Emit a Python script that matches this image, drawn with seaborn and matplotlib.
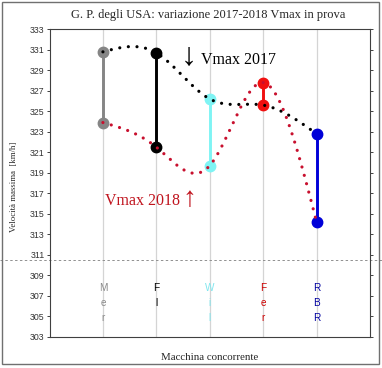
import numpy as np
import pandas as pd
import matplotlib
matplotlib.use("Agg")
import matplotlib.pyplot as plt
import matplotlib.transforms as mtransforms
from matplotlib.patches import Rectangle
import seaborn as sns

# ---- data ----
categories = ["Mer", "Fl", "Wil", "Fer", "RBR"]
vmax_2017 = [330.8, 330.7, 326.2, 325.6, 322.8]
vmax_2018 = [323.9, 321.5, 319.7, 327.8, 314.2]
bar_colors = ["#858585", "#000000", "#7ff4f4", "#f01010", "#0000d8"]
label_colors = ["#8a8a8a", "#000000", "#7fe6ee", "#cc0000", "#0000a0"]
yticks = list(range(303, 334, 2))
title = "G. P. degli USA: variazione 2017-2018 Vmax in prova"
ylabel = "Velocità massima  [km/h]"
xlabel = "Macchina concorrente"


def natural_spline(x, y, xs):
    """Natural cubic spline through (x, y), evaluated at xs."""
    x = np.asarray(x, float); y = np.asarray(y, float)
    n = len(x); h = np.diff(x)
    A = np.zeros((n, n)); r = np.zeros(n)
    A[0, 0] = 1; A[-1, -1] = 1
    for i in range(1, n - 1):
        A[i, i - 1] = h[i - 1]; A[i, i] = 2 * (h[i - 1] + h[i]); A[i, i + 1] = h[i]
        r[i] = 6 * ((y[i + 1] - y[i]) / h[i] - (y[i] - y[i - 1]) / h[i - 1])
    M = np.linalg.solve(A, r)
    idx = np.clip(np.searchsorted(x, xs) - 1, 0, n - 2)
    hi = h[idx]; t0 = xs - x[idx]; t1 = x[idx + 1] - xs
    return (M[idx] * t1 ** 3 / (6 * hi) + M[idx + 1] * t0 ** 3 / (6 * hi)
            + (y[idx] / hi - M[idx] * hi / 6) * t1 + (y[idx + 1] / hi - M[idx + 1] * hi / 6) * t0)


W, H = 382, 368
fig = plt.figure(figsize=(W / 100, H / 100), dpi=100)
sns.set_style("white")
ax = fig.add_axes([49.5 / W, 1 - 336.7 / H, (370 - 49.5) / W, (336.7 - 29.3) / H])

xpos = np.arange(1, len(categories) + 1)
ax.set_xlim(0, 6)
ax.set_ylim(303, 333)

# vertical grid
for xp in xpos:
    ax.axvline(xp, color="#d4d4d4", lw=0.9, zorder=0)

# vertical bars with end markers
for xp, a, b, col in zip(xpos, vmax_2017, vmax_2018, bar_colors):
    ax.plot([xp, xp], [a, b], color=col, lw=2.1, marker="o", ms=7.5,
            markeredgecolor=col, markerfacecolor=col, zorder=2, solid_capstyle="butt")

# spline curves drawn with seaborn
xs = np.linspace(1, 5, 600)
df17 = pd.DataFrame({"x": xs, "y": natural_spline(xpos, vmax_2017, xs)})
df18 = pd.DataFrame({"x": xs, "y": natural_spline(xpos, vmax_2018, xs)})
dots = (0, (0.01, 2.7))
sns.lineplot(data=df17, x="x", y="y", sort=False, ax=ax, color="black", lw=2.3, zorder=3)
sns.lineplot(data=df18, x="x", y="y", sort=False, ax=ax, color="#c8102e", lw=2.3, zorder=3)
for l in ax.lines[-2:]:
    l.set_linestyle(dots)
    l.set_dash_capstyle("round")

# category labels, stacked vertically
for xp, name, col in zip(xpos, categories, label_colors):
    ax.text(xp, 308.2, "\n".join(name), color=col, ha="center", va="top",
            fontsize=7.2, family="Liberation Sans", linespacing=1.6)

serif = ["Liberation Serif", "DejaVu Serif"]
ax.text(2.6, 330.35, "\u2193", fontsize=23, family=serif, color="black",
        ha="center", va="center")
ax.text(2.835, 330.0, "Vmax 2017", fontsize=11.5, family=serif, color="black",
        ha="left", va="center")
ax.text(1.03, 316.2, "Vmax 2018", fontsize=11.5, family=serif, color="#c0141e",
        ha="left", va="center")
ax.text(2.61, 316.4, "\u2191", fontsize=20, family=serif, color="#c0141e",
        ha="center", va="center")

# axis styling
ax.set_yticks(yticks)
ax.set_xticks([])
ax.set_xlabel(""); ax.set_ylabel("")
ax.tick_params(axis="y", which="both", left=True, right=True, labelleft=True,
               direction="in", length=3.5, width=0.7, color="#404040",
               labelsize=6.3, labelcolor="#333333", pad=1.5)
ax.tick_params(axis="y", left=True, direction="out", length=2)
for lab in ax.get_yticklabels():
    lab.set_family("Liberation Sans")
for s in ax.spines.values():
    s.set_visible(True)
    s.set_color("#404040")
    s.set_linewidth(0.8)

# dashed horizontal line across the figure
trans = mtransforms.blended_transform_factory(fig.transFigure, ax.transData)
ax.plot([0, 1], [310.44, 310.44], transform=trans, clip_on=False,
        color="#909090", lw=0.7, linestyle=(0, (2.5, 2.5)), zorder=1)

fig.text(208 / W, 1 - 15 / H, title, fontsize=9, family=serif, ha="center", va="center")
fig.text(210 / W, 1 - 357 / H, xlabel, fontsize=7.8, family=serif, ha="center", va="center")
fig.text(14 / W, 1 - 186.5 / H, ylabel, fontsize=6.3, family=serif, ha="center", va="center",
         rotation=90)

fig.patches.append(Rectangle((2 / W, 1 - 364 / H), 377 / W, 362 / H, transform=fig.transFigure,
                             fill=False, edgecolor="#707070", lw=1.0))

fig.savefig("out.png", dpi=100)
